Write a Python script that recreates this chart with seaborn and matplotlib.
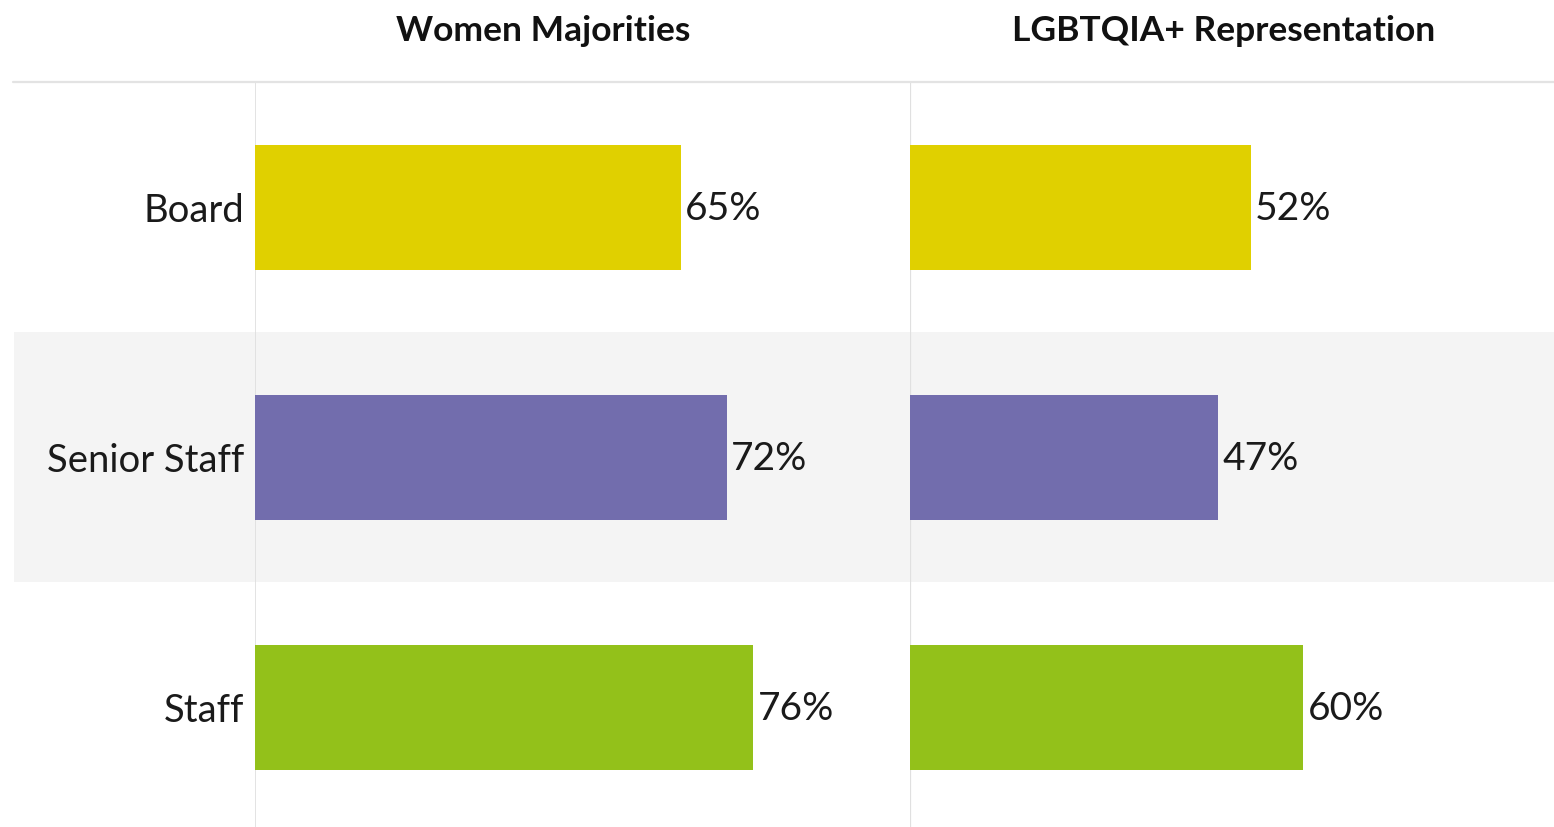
import matplotlib
matplotlib.use("Agg")
import matplotlib.pyplot as plt
import seaborn as sns
import pandas as pd
from matplotlib.patches import Rectangle
from matplotlib.lines import Line2D

categories = ["Board", "Senior Staff", "Staff"]
women_majorities = [65, 72, 76]
lgbtqia_representation = [52, 47, 60]
panel_titles = ["Women Majorities", "LGBTQIA+ Representation"]
bar_colors = ["#E0D000", "#726DAD", "#93C11A"]

sns.set_theme(style="white")
plt.rcParams['font.family'] = ['Lato', 'DejaVu Sans']

W, H = 1554, 827
fig = plt.figure(figsize=(W / 100, H / 100), dpi=100)

def fx(px):
    return px / W

def fy(py):
    return 1 - py / H

# gray band behind Senior Staff row
fig.patches.append(Rectangle((fx(14), fy(582)), fx(1554) - fx(14), fy(332) - fy(582),
                             transform=fig.transFigure, facecolor="#F4F4F4",
                             edgecolor="none", zorder=-5))

# header line
fig.add_artist(Line2D([fx(13), fx(1554)], [fy(82), fy(82)], transform=fig.transFigure,
                      color="#E3E3E3", lw=1.6, zorder=1))

panel_px = 655  # px for 100%
top, bottom = 82, 827
ax_h = fy(top) - fy(bottom)
row_px = 250
ylim_bottom = -0.5 + (bottom - top) / row_px

panels = [(255, 910, women_majorities), (910, 1554, lgbtqia_representation)]
for i, (x0, x1, vals) in enumerate(panels):
    ax = fig.add_axes([fx(x0), fy(bottom), fx(x1) - fx(x0), ax_h])
    ax.patch.set_alpha(0)
    df = pd.DataFrame({"cat": categories, "val": vals})
    sns.barplot(data=df, x="val", y="cat", hue="cat", palette=bar_colors, legend=False,
                width=0.5, ax=ax, saturation=1, zorder=3, linewidth=0, edgecolor="none")
    ax.set_xlim(0, 100 * (x1 - x0) / panel_px)
    ax.set_ylim(ylim_bottom, -0.5)
    for s in ax.spines.values():
        s.set_visible(False)
    ax.axvline(0, color="#E0E0E0", lw=1.6 if i == 1 else 1.3, zorder=2)
    ax.set_xticks([])
    ax.set_xlabel("")
    ax.set_ylabel("")
    if i == 0:
        ax.tick_params(axis="y", length=0, pad=8, labelsize=27.5, labelcolor="#1A1A1A")
    else:
        ax.set_yticks([])
    for j, v in enumerate(vals):
        ax.text(v + 0.7, j + 0.01, f"{v}%", va="center", ha="left", fontsize=28,
                color="#1A1A1A")

fig.text(fx(543), fy(31), panel_titles[0], ha="center", va="center", fontsize=25.5,
         fontweight="bold", color="#111111")
fig.text(fx(1224), fy(31), panel_titles[1], ha="center", va="center", fontsize=25.5,
         fontweight="bold", color="#111111")

fig.savefig("out.png", dpi=100, facecolor="white")
